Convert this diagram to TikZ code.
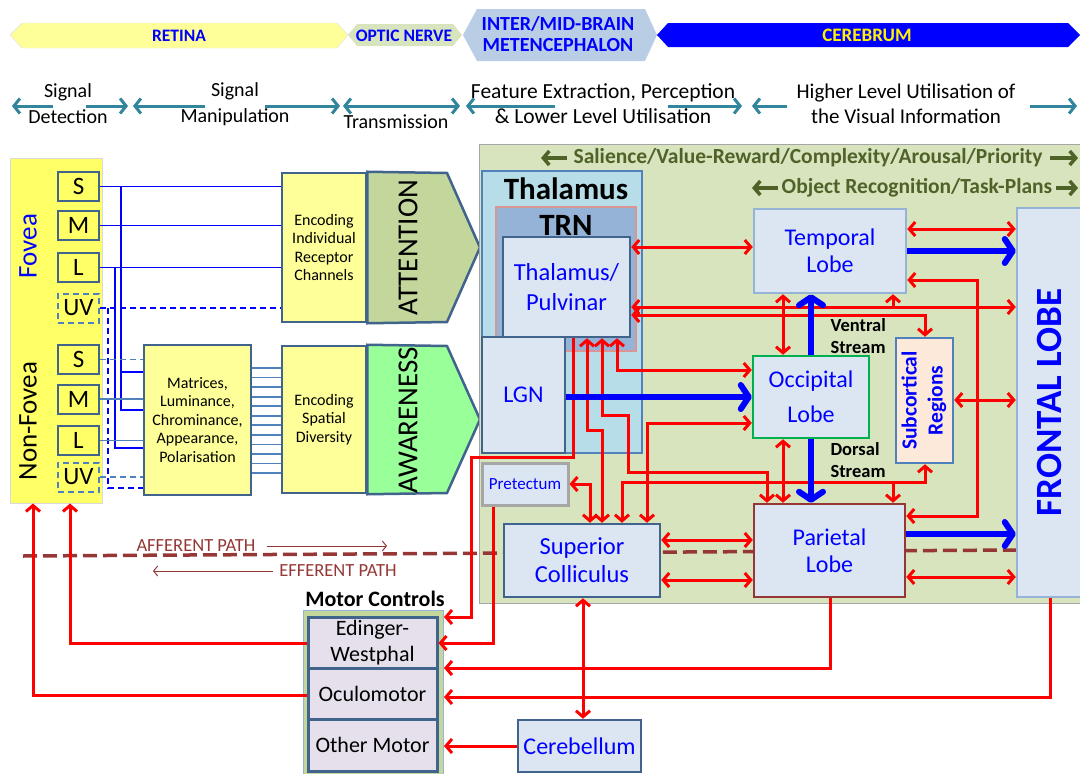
\documentclass[tikz,border=0pt]{standalone}
\usepackage{fontspec}
\setmainfont{Carlito}
\usepackage{graphicx}
\usepackage{tikz}
\usetikzlibrary{arrows.meta}

\definecolor{eyeY}{HTML}{FFFF66}
\definecolor{paleY}{HTML}{FFFF99}
\definecolor{opticG}{HTML}{D7E4BD}
\definecolor{brainB}{HTML}{B9CDE5}
\definecolor{tealA}{HTML}{31859C}
\definecolor{edgeB}{HTML}{41648C}
\definecolor{boxF}{HTML}{DCE6F2}
\definecolor{thalB}{HTML}{B7DEE8}
\definecolor{trnB}{HTML}{95B3D7}
\definecolor{trnE}{HTML}{D99694}
\definecolor{attG}{HTML}{C3D69B}
\definecolor{awaG}{HTML}{99FF99}
\definecolor{motorF}{HTML}{E6E0EC}
\definecolor{subF}{HTML}{FDE9D9}
\definecolor{cueG}{HTML}{4F6228}
\definecolor{pathR}{HTML}{953735}
\definecolor{steelB}{HTML}{4F81BD}
\definecolor{occG}{HTML}{00B050}

\tikzset{
  >={Straight Barb[length=6pt,width=14pt]},
  rline/.style={draw=red, line width=3pt},
  bline/.style={draw=blue, line width=6pt, >={Straight Barb[length=8pt,width=24pt,round]}},
  stagearr/.style={draw=tealA, line width=3pt, >={Straight Barb[length=6pt,width=15pt]}},
  cuearr/.style={draw=cueG, line width=3.5pt, >={Straight Barb[length=6pt,width=14pt]}},
  fib/.style={draw=blue, line width=1.3pt},
  fibs/.style={draw=steelB, line width=1.8pt},
  uvdash/.style={dash pattern=on 6pt off 4pt},
  part/.style={text=blue, align=center, font=\bfseries\fontsize{17.5}{21}\selectfont},
  stage/.style={align=center, font=\fontsize{20}{26}\selectfont},
  cue/.style={text=cueG, font=\bfseries\fontsize{21.5}{24}\selectfont},
  cone/.style={draw=edgeB, fill=eyeY, line width=2pt, minimum width=41, minimum height=29, inner sep=0pt, font=\fontsize{25}{30}\selectfont},
  encbox/.style={draw=edgeB, fill=paleY, line width=2.5pt, align=center, inner sep=0pt, font=\fontsize{16}{18.5}\selectfont},
  lobe/.style={draw=edgeB, fill=boxF, line width=2.5pt, align=center, inner sep=0pt, text=blue, font=\fontsize{24}{27}\selectfont},
  motor/.style={draw=edgeB, fill=motorF, line width=3pt, align=center, inner sep=0pt, minimum width=129, minimum height=51, font=\fontsize{22}{26}\selectfont},
  streamlbl/.style={anchor=west, align=left, font=\bfseries\fontsize{18.5}{22}\selectfont},
  pathlbl/.style={text=pathR, font=\fontsize{18.5}{20}\selectfont},
  upright/.style={rotate=90, font=\fontsize{27}{32}\selectfont}
}

\begin{document}
\begin{tikzpicture}[x=1pt,y=-1pt]
    \useasboundingbox (0,0) rectangle (1080,774);

    % Banner of the parts of the visual pathway
    \filldraw[draw=black!12, fill=paleY] (10,35) -- (22,23) -- (337,23) -- (348,35) -- (337,48) -- (22,48) -- cycle;
    \node[part] (retina) at (179,35.5) {RETINA};
    \fill[opticG] (348,35) -- (357,24) -- (453,24) -- (462,35) -- (453,46) -- (357,46) -- cycle;
    \node[part] (optic) at (404,35.5) {OPTIC NERVE};
    \fill[brainB] (463,35) -- (477,9) -- (645,9) -- (657,35) -- (645,61) -- (477,61) -- cycle;
    \node[part, font=\bfseries\fontsize{20}{21}\selectfont] (brain) at (558,34) {INTER/MID-BRAIN\\METENCEPHALON};
    \fill[blue] (657,35) -- (668,23) -- (1068,23) -- (1080,35) -- (1068,47) -- (668,47) -- cycle;
    \node[part, text=yellow, font=\bfseries\fontsize{19}{21}\selectfont] (cerebrum) at (867,35.5) {CEREBRUM};

    % Processing stages with their arrows
    \node[stage] (detect) at (68,104) {Signal\\Detection};
    \draw[stagearr,->] (53,106) -- (12,106);
    \draw[stagearr,->] (86,106) -- (128,106);
    \node[stage] (manip) at (235,104) {Signal\\Manipulation};
    \draw[stagearr,->] (205,106) -- (133,106);
    \draw[stagearr,->] (265,106) -- (340,106);
    \node[stage] (transm) at (396,122) {Transmission};
    \draw[stagearr,<->] (343,106) -- (460,106);
    \node[stage, font=\fontsize{21.5}{25}\selectfont] (feature) at (603,103.5) {Feature Extraction, Perception\\\& Lower Level Utilisation};
    \draw[stagearr,->] (555,106) -- (466,106);
    \draw[stagearr,->] (668,106) -- (742,106);
    \node[stage, font=\fontsize{21}{25}\selectfont] (higher) at (906,103.5) {Higher Level Utilisation of\\the Visual Information};
    \draw[stagearr,->] (787,106) -- (752,106);
    \draw[stagearr,->] (1030,106) -- (1077,106);

    % Retina with its receptors
    \node[draw=black!15, fill=eyeY, line width=1pt, minimum width=92, minimum height=345] (eye) at (56,330.5) {};
    \node[upright, text=blue] (fovea) at (28,246) {Fovea};
    \node[upright] (nonfovea) at (28,421) {Non-Fovea};
    \node[cone] (fS) at (78.5,186.5) {S};
    \node[cone] (fM) at (78.5,225.5) {M};
    \node[cone] (fL) at (78.5,267.5) {L};
    \node[cone, draw=steelB, uvdash] (fUV) at (78.5,308) {UV};
    \node[cone] (nS) at (78.5,359.5) {S};
    \node[cone] (nM) at (78.5,399) {M};
    \node[cone] (nL) at (78.5,440.5) {L};
    \node[cone, draw=steelB, uvdash] (nUV) at (78.5,477) {UV};

    % Encoding boxes
    \node[encbox, minimum width=84, minimum height=149] (enc1) at (324,247.5) {Encoding\\Individual\\Receptor\\Channels};
    \node[encbox, minimum width=84, minimum height=147] (enc2) at (324,419.5) {Encoding\\Spatial\\Diversity};
    \node[encbox, minimum width=107, minimum height=150] (mat) at (197.5,420) {Matrices,\\Luminance,\\Chrominance,\\Appearance,\\Polarisation};

    % Attention and awareness
    \draw[edgeB, fill=attG, line width=2.5pt] (enc1.north east) -- (447,173) -- (480,247.5) -- (447,322) -- (enc1.south east) -- cycle;
    \node[upright, font=\fontsize{29}{32}\selectfont] (attention) at (408,247.5) {ATTENTION};
    \draw[edgeB, fill=awaG, line width=2.5pt] (enc2.north east) -- (447,346) -- (480,419.5) -- (447,493) -- (enc2.south east) -- cycle;
    \node[upright, font=\fontsize{29}{32}\selectfont] (awareness) at (408,420) {AWARENESS};

    % Fibres from the fovea
    \draw[fib] (fS.east) -- (fS.east -| enc1.west);
    \draw[fib] (fM.east) -- (fM.east -| enc1.west);
    \draw[fib] (fL.east) -- (fL.east -| enc1.west);
    \draw[fib, uvdash] (fUV.east) -- (fUV.east -| enc1.west);
    \draw[fib] (fS.east -| 121,0) -- (121,410) -- (mat.west |- 0,410);
    \draw[fib] (121,372) -- (mat.west |- 0,372);
    \draw[fib] (fL.east -| 115,0) -- (115,448) -- (mat.west |- 0,448);
    \draw[fib, uvdash] (fUV.east -| 108,0) -- (108,488) -- (mat.west |- 0,488);

    % Fibres from the non-fovea
    \draw[fibs, uvdash] (nS.east) -- (nS.east -| mat.west);
    \draw[fibs] (nM.east) -- (nM.east -| mat.west);
    \draw[fibs] (nL.east) -- (nL.east -| mat.west);
    \draw[fibs, uvdash] (nUV.east) -- (nUV.east -| mat.west);
    \foreach \i in {0,...,11} {
        \pgfmathsetmacro\yy{368+9.55*\i}
        \draw[fibs] (mat.east |- 0,\yy) -- (enc2.west |- 0,\yy);
    }

    % Cortex region
    \filldraw[draw=black!35, fill=opticG, line width=1pt] (479,144) rectangle (1085,603);
    \node[cue] (salience) at (808,158) {Salience/Value-Reward/Complexity/Arousal/Priority};
    \draw[cuearr,->] (567,158) -- (541,158);
    \draw[cuearr,->] (1050,158) -- (1078,158);
    \node[cue] (objrec) at (917,188) {Object Recognition/Task-Plans};
    \draw[cuearr,->] (778,188) -- (752,188);
    \draw[cuearr,->] (1056,188) -- (1078,188);

    % Afferent / efferent boundary
    \draw[pathR, line width=3.5pt, dash pattern=on 14pt off 6pt] (23,556) -- (1016,550);
    \node[pathlbl] (aff) at (196,546) {AFFERENT PATH};
    \draw[pathR, line width=1pt, -{Straight Barb[length=4pt,width=10pt]}] (267,546) -- (387,546);
    \node[pathlbl] (eff) at (338,571) {EFFERENT PATH};
    \draw[pathR, line width=1pt, -{Straight Barb[length=4pt,width=10pt]}] (273,571) -- (153,571);

    % Thalamus
    \node[draw=steelB, fill=thalB, line width=2pt, minimum width=160, minimum height=282] (thalamus) at (562,312) {};
    \node[font=\bfseries\fontsize{31}{32}\selectfont] (thaltitle) at (566,189) {Thalamus};
    \node[draw=trnE, fill=trnB, line width=2.5pt, minimum width=140, minimum height=144] (trn) at (566,279) {};
    \node[font=\bfseries\fontsize{31}{32}\selectfont] (trntitle) at (566,225) {TRN};
    \node[lobe, minimum width=127, minimum height=100, font=\fontsize{24.5}{30}\selectfont] (pulv) at (566.5,287) {Thalamus/\\Pulvinar};
    \node[lobe, minimum width=83, minimum height=116] (lgn) at (523.5,395) {LGN};
    \node[lobe, draw=black!35, line width=3pt, minimum width=86, minimum height=42, font=\fontsize{17}{17}\selectfont] (pretectum) at (525,484) {Pretectum};

    % Lobes and other regions
    \node[lobe, draw=trnB, minimum width=152, minimum height=84] (temporal) at (830,251) {Temporal\\Lobe};
    \node[lobe, draw=occG, minimum width=116, minimum height=82, font=\fontsize{24}{35}\selectfont] (occipital) at (811,397) {Occipital\\Lobe};
    \node[lobe, draw=steelB, fill=subF, minimum width=57, minimum height=125, font=\bfseries\fontsize{21.5}{26}\selectfont] (sub) at (924.5,400.5) {\rotatebox{90}{\begin{tabular}{@{}c@{}}Subcortical\\Regions\end{tabular}}};
    \node[lobe, draw=trnB, minimum width=65, minimum height=389, font=\bfseries\fontsize{37}{40}\selectfont] (frontal) at (1049.5,402.5) {\rotatebox{90}{FRONTAL LOBE}};
    \node[lobe, draw=pathR, minimum width=151, minimum height=93] (parietal) at (829.5,550.5) {Parietal\\Lobe};
    \node[lobe, minimum width=156, minimum height=73, font=\fontsize{24.5}{28}\selectfont] (sc) at (582,560.5) {Superior\\Colliculus};
    \node[lobe, minimum width=123, minimum height=52] (cerebellum) at (579.5,746) {Cerebellum};
    \node[streamlbl] (ventral) at (827,336) {Ventral\\Stream};
    \node[streamlbl] (dorsal) at (827,460.5) {Dorsal\\Stream};

    % Motor controls
    \node[draw=trnB, fill=attG, line width=1pt, minimum width=140, minimum height=175, anchor=north west] (motorbox) at (303,610) {};
    \node[font=\bfseries\fontsize{22}{24}\selectfont] (motortitle) at (375,599) {Motor Controls};
    \node[motor] (edinger) at (372.5,642.5) {Edinger-\\Westphal};
    \node[motor] (oculo) at (372.5,693.5) {Oculomotor};
    \node[motor, minimum height=52] (other) at (372.5,745) {Other Motor};

    % Red pathways
    \draw[rline,<->] (pulv.east |- 0,247) -- (temporal.west |- 0,247);
    \draw[rline,<->] (pulv.east |- 0,307) -- (frontal.west |- 0,307);
    \draw[rline,->] (893,307) -- (temporal.south -| 893,0);
    \draw[rline,<->] (pulv.east |- 0,315) -| (sub.north -| 925,0);
    \draw[rline,<->] (temporal.south -| 783,0) -- (occipital.north -| 783,0);
    \draw[rline,<->] (temporal.east |- 0,229) -- (frontal.west |- 0,229);
    \draw[rline,<->] (temporal.east |- 0,280) -| (977,516) -- (parietal.east |- 0,516);
    \draw[rline,<->] (sub.east |- 0,400) -- (frontal.west |- 0,400);
    \draw[rline,<->] (parietal.east |- 0,577) -- (frontal.west |- 0,577);
    \draw[rline,<->] (occipital.south -| 783,0) -- (parietal.north -| 783,0);
    \draw[rline,<->] (sc.north -| 622,0) |- (925,482) -- (sub.south -| 925,0);
    \draw[rline,->] (893,482) -- (parietal.north -| 893,0);
    \draw[rline,<->] (pulv.south -| 602,0) -- (602,415) -- (628,415) -- (628,472) -| (parietal.north -| 767,0);
    \draw[rline,<->] (pulv.south -| 587,0) -- (587,430) -| (sc.north -| 602,0);
    \draw[rline,<->] (pulv.south -| 617,0) |- (occipital.west |- 0,370);
    \draw[rline,<->] (sc.north -| 647,0) |- (occipital.west |- 0,423);
    \draw[rline,<->] (pretectum.east) -| (sc.north -| 590,0);
    \draw[rline,->] (pulv.south -| 573,0) -- (573,457) -- (471,457) |- (motorbox.east |- 0,617);
    \draw[rline,->] (pretectum.south -| 493,0) |- (edinger.east |- 0,643);
    \draw[rline,->] (parietal.south -| 830,0) |- (motorbox.east |- 0,668);
    \draw[rline,->] (frontal.south -| 1050,0) |- (motorbox.east |- 0,697);
    \draw[rline,<->] (sc.south -| 583,0) -- (cerebellum.north -| 583,0);
    \draw[rline,->] (cerebellum.west) -- (motorbox.east |- cerebellum.west);
    \draw[rline,->] (edinger.west |- 0,643) -| (eye.south -| 70,0);
    \draw[rline,->] (oculo.west |- 0,695) -| (eye.south -| 33,0);
    \draw[rline,<->] (sc.east |- 0,540) -- (parietal.west |- 0,540);
    \draw[rline,<->] (sc.east |- 0,580) -- (parietal.west |- 0,580);

    % Blue streams
    \draw[bline,->] (lgn.east |- 0,397) -- (occipital.west |- 0,397);
    \draw[bline,->] (occipital.north -| 811,0) -- (temporal.south -| 811,0);
    \draw[bline,->] (occipital.south -| 811,0) -- (parietal.north -| 811,0);
    \draw[bline,->] (temporal.east) -- (frontal.west |- temporal.east);
    \draw[bline,->] (parietal.east |- 0,534) -- (frontal.west |- 0,534);

\end{tikzpicture}
\end{document}
